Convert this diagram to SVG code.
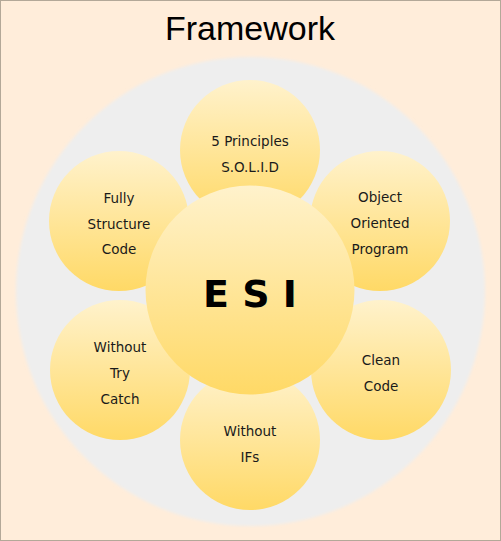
<svg xmlns="http://www.w3.org/2000/svg" width="501" height="541" viewBox="0 0 501 541">
<style>
.sat{fill:url(#g);}
.st{font-family:"DejaVu Sans",Verdana,sans-serif;font-size:13.5px;fill:#1a1a1a;text-anchor:middle;}
.title{font-family:"Liberation Sans",Arial,sans-serif;font-size:34px;fill:#000;text-anchor:middle;}
.core{font-family:"DejaVu Sans",Verdana,sans-serif;font-size:38px;font-weight:bold;fill:#000;text-anchor:middle;}
</style>
<defs>
<linearGradient id="g" x1="0" y1="0" x2="0" y2="1">
<stop offset="0" stop-color="#FFF2CC"/>
<stop offset="1" stop-color="#FFD966"/>
</linearGradient>
<filter id="soft" x="-10%" y="-10%" width="120%" height="120%">
<feGaussianBlur stdDeviation="1.5"/>
</filter>
</defs>
<g id="frame">
<rect x="0.5" y="0.5" width="500" height="540" fill="#FFEDDA" stroke="#B3A898"/>
<text class="title" x="250" y="40">Framework</text>
</g>
<g id="ring">
<circle cx="250.5" cy="291.5" r="234.5" fill="#EEEEEE" filter="url(#soft)"/>
</g>
<g id="connectors"></g>
<g id="node-solid">
<circle class="sat" cx="250" cy="150" r="70"/>
<text class="st" x="250" y="146">5 Principles</text>
<text class="st" x="250" y="172">S.O.L.I.D</text>
</g>
<g id="node-oop">
<circle class="sat" cx="380" cy="221" r="70"/>
<text class="st" x="380" y="202">Object</text>
<text class="st" x="380" y="228">Oriented</text>
<text class="st" x="380" y="254">Program</text>
</g>
<g id="node-clean">
<circle class="sat" cx="381" cy="370" r="70"/>
<text class="st" x="381" y="365">Clean</text>
<text class="st" x="381" y="391">Code</text>
</g>
<g id="node-ifs">
<circle class="sat" cx="250" cy="440" r="70"/>
<text class="st" x="250" y="436">Without</text>
<text class="st" x="250" y="462">IFs</text>
</g>
<g id="node-trycatch">
<circle class="sat" cx="120" cy="370" r="70"/>
<text class="st" x="120" y="352">Without</text>
<text class="st" x="120" y="378">Try</text>
<text class="st" x="120" y="404">Catch</text>
</g>
<g id="node-structure">
<circle class="sat" cx="119" cy="221" r="70"/>
<text class="st" x="119" y="203">Fully</text>
<text class="st" x="119" y="229">Structure</text>
<text class="st" x="119" y="254">Code</text>
</g>
<g id="node-esi">
<circle class="sat" cx="250" cy="290" r="104.5"/>
<text class="core" x="250" y="307">E S I</text>
</g>
</svg>
